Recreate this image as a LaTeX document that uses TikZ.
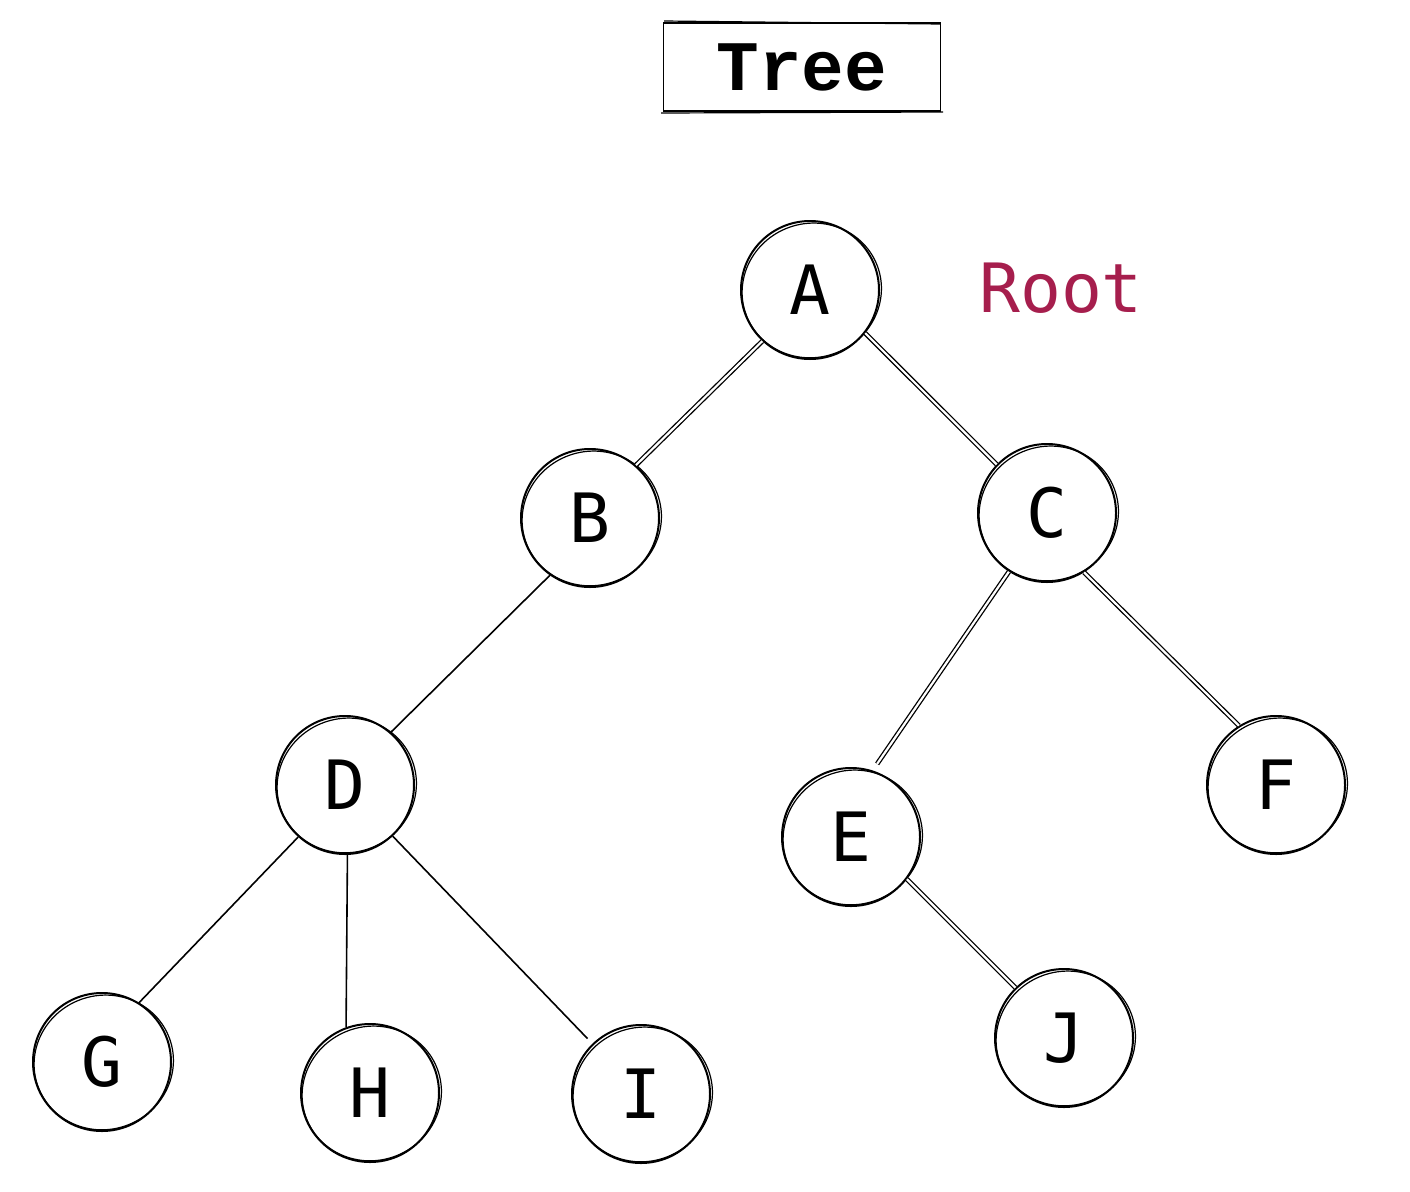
\documentclass[tikz,border=0pt]{standalone}
\usepackage{fontspec}
\newfontfamily\nodefont{DejaVu Sans Mono}
\newfontfamily\titlefont{Liberation Mono}
\definecolor{rootred}{HTML}{A61E4D}
\begin{document}
\begin{tikzpicture}[x=1pt,y=-1pt,
  tnode/.style={circle,draw=black,line width=2pt,minimum size=138pt,inner sep=0pt,
    font=\nodefont\fontsize{68}{68}\selectfont},
  sketch/.style={draw=black,line width=1.2pt},
  edge/.style={draw=black,line width=1.6pt},
  dedge/.style={draw=black,line width=1.3pt,double=white,double distance=2.2pt}]
\useasboundingbox (0,0) rectangle (1410,1191);
\fill[white] (0,0) rectangle (1410,1191);
% title
\node[draw=black,line width=1.8pt,minimum width=277pt,minimum height=88pt,inner sep=0pt,
  font=\titlefont\bfseries\fontsize{71}{71}\selectfont] (title) at (802,67) {Tree};
\draw[sketch] (661,113) -- (943,112);
\draw[sketch] (664,21) -- (940,24);
% nodes
\node[tnode] (A) at (810,290) {A};
\node[tnode] (B) at (590,518) {B};
\node[tnode] (C) at (1047,513) {C};
\node[tnode] (D) at (345,785) {D};
\node[tnode] (E) at (851,837) {E};
\node[tnode] (F) at (1276,785) {F};
\node[tnode] (G) at (102,1062) {G};
\node[tnode] (H) at (370,1093) {H};
\node[tnode] (I) at (641,1094) {I};
\node[tnode] (J) at (1064,1038) {J};
% sketchy second strokes
\foreach \n in {A,B,C,D,E,F,G,H,I,J}{
  \draw[sketch,rotate around={20:(\n.center)}] ([xshift=1.5pt,yshift=-1pt]\n.center) ellipse [x radius=70pt,y radius=67pt];
}
% root label
\node[text=rootred,font=\nodefont\fontsize{68}{68}\selectfont,anchor=center] (root) at (1061,288) {Root};
% edges
\draw[dedge] (A.-133) -- (B.49);
\draw[dedge] (A.-38) -- (C.136);
\draw[edge] (B.-125) -- (D.49);
\draw[dedge,shorten >=8pt] (C.-123) -- (E.72);
\draw[dedge] (C.-58) -- (F.122);
\draw[edge] (D.-132) -- (G.58);
\draw[edge] (D.-88) -- (H.110);
\draw[edge,shorten >=7pt] (D.-47) -- (I.134);
\draw[dedge] (E.-37) -- (J.134);
\end{tikzpicture}
\end{document}
